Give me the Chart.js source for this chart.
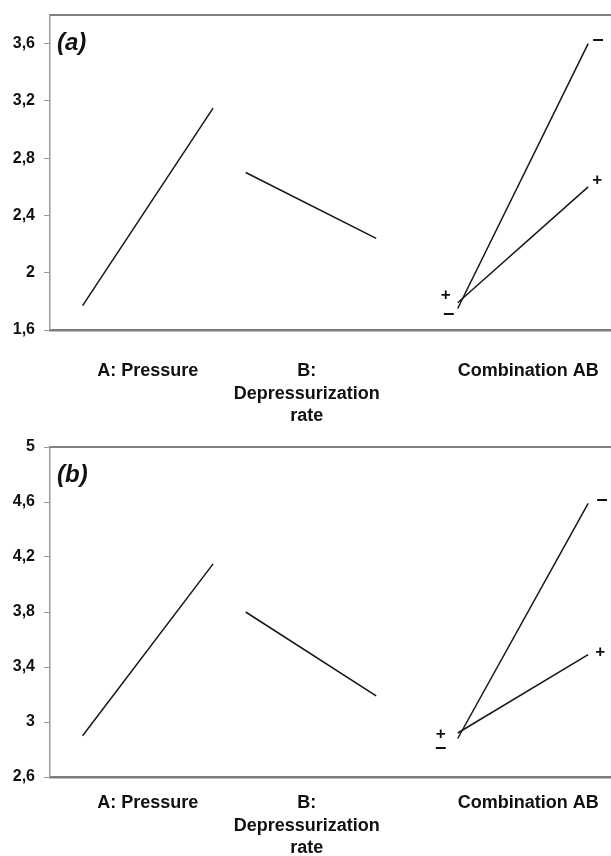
<!DOCTYPE html>
<html>
<head>
<meta charset="utf-8">
<script src="https://cdn.jsdelivr.net/npm/chart.js@4.4.1/dist/chart.umd.min.js"></script>
<style>
  body { margin: 0; background: #fff; }
  canvas { display: block; }
</style>
</head>
<body>
<canvas id="chartA" width="611" height="428"></canvas>
<canvas id="chartB" width="611" height="428"></canvas>
<script>
// factor labels on the x axis and where they sit
var effectLabels = [['A: Pressure'], ['B:', 'Depressurization', 'rate'], ['Combination AB']];
var effectLabelX = [3, 7.87, 14.66];

// low / high level positions of each factor on the x axis
var pressureX = [1, 5];
var rateX = [6, 10];
var comboX = [12.5, 16.5];

// panel (a)
var pressureA = [1.77, 3.15];
var rateA = [2.70, 2.24];
var comboMinusA = [1.75, 3.60];
var comboPlusA = [1.79, 2.60];
var yTicksA = [1.6, 2, 2.4, 2.8, 3.2, 3.6];

// panel (b)
var pressureB = [2.90, 4.15];
var rateB = [3.80, 3.19];
var comboMinusB = [2.88, 4.59];
var comboPlusB = [2.92, 3.49];
var yTicksB = [2.6, 3, 3.4, 3.8, 4.2, 4.6, 5];

function pts(xs, ys) {
    return xs.map(function (x, i) { return { x: x, y: ys[i] }; });
}

function seg(xs, ys, marks) {
    return {
        data: pts(xs, ys),
        borderColor: '#161616',
        borderWidth: 1.5,
        pointRadius: 0,
        fill: false,
        marks: marks
    };
}

var fmt = function (v) { return String(Number(v.toFixed(1))).replace('.', ','); };

// top frame line, panel letter and the +/- signs at the interaction ends
var decorations = {
    id: 'decorations',
    afterDraw: function (chart, args, opts) {
        var ctx = chart.ctx, area = chart.chartArea;
        ctx.save();
        ctx.strokeStyle = '#808080';
        ctx.lineWidth = 2;
        ctx.beginPath();
        ctx.moveTo(area.left, area.top);
        ctx.lineTo(area.right, area.top);
        ctx.stroke();

        ctx.fillStyle = '#111';
        ctx.font = 'italic bold 24px "Liberation Sans", Arial, sans-serif';
        ctx.textBaseline = 'middle';
        ctx.textAlign = 'left';
        ctx.fillText(opts.letter, area.left + 7, area.top + 28);

        ctx.textAlign = 'center';
        chart.data.datasets.forEach(function (ds, di) {
            if (!ds.marks) return;
            var meta = chart.getDatasetMeta(di);
            var plus = ds.marks === 'plus';
            ctx.font = 'bold ' + (plus ? 17 : 20) + 'px "Liberation Sans", Arial, sans-serif';
            meta.data.forEach(function (p, i) {
                var off = opts.offsets[ds.marks][i];
                ctx.fillText(plus ? '+' : '\u2013', p.x + off[0], p.y + off[1]);
            });
        });
        ctx.restore();
    }
};

function makeChart(id, sets, yMin, yMax, yTicks, letter, topPad, xHeight, labelPad, offsets) {
    return new Chart(document.getElementById(id), {
        type: 'line',
        data: {
            datasets: [
                seg(pressureX, sets[0]),
                seg(rateX, sets[1]),
                seg(comboX, sets[2], 'minus'),
                seg(comboX, sets[3], 'plus')
            ]
        },
        options: {
            responsive: false,
            animation: false,
            layout: { padding: { top: topPad, left: 0, right: 0, bottom: 0 } },
            plugins: {
                legend: { display: false },
                tooltip: { enabled: false },
                decorations: { letter: letter, offsets: offsets }
            },
            scales: {
                x: {
                    type: 'linear',
                    min: 0,
                    max: 17.2,
                    afterBuildTicks: function (s) {
                        s.ticks = effectLabelX.map(function (v) { return { value: v }; });
                    },
                    afterFit: function (s) {
                        s.height = xHeight;
                        s.paddingLeft = 0;
                        s.paddingRight = 0;
                    },
                    grid: { display: false, drawTicks: false },
                    border: { display: true, color: '#7d7d7d', width: 2.5 },
                    ticks: {
                        autoSkip: false,
                        maxRotation: 0,
                        padding: labelPad,
                        color: '#111',
                        font: { family: '"Liberation Sans", Arial, sans-serif', size: 18, weight: 'bold', lineHeight: 1.25 },
                        callback: function (v, i) { return effectLabels[i]; }
                    }
                },
                y: {
                    min: yMin,
                    max: yMax,
                    afterBuildTicks: function (s) {
                        s.ticks = yTicks.map(function (v) { return { value: v }; });
                    },
                    afterFit: function (s) {
                        s.width = 50;
                        s.paddingTop = 0;
                        s.paddingBottom = 0;
                    },
                    grid: { display: true, drawOnChartArea: false, drawTicks: true, tickLength: 6, color: '#999' },
                    border: { display: true, color: '#9a9a9a', width: 1.5 },
                    ticks: {
                        padding: 9,
                        color: '#111',
                        font: { family: '"Liberation Sans", Arial, sans-serif', size: 16, weight: 'bold' },
                        callback: function (v) { return fmt(v); }
                    }
                }
            }
        },
        plugins: [decorations]
    });
}

makeChart('chartA', [pressureA, rateA, comboMinusA, comboPlusA], 1.6, 3.8, yTicksA, '(a)', 15, 98, 30, {
    plus: [[-12, -7], [9, -7]],
    minus: [[-9, 5], [10, -4]]
});

makeChart('chartB', [pressureB, rateB, comboMinusB, comboPlusB], 2.6, 5, yTicksB, '(b)', 19, 79, 15, {
    plus: [[-17, 1], [12, -2]],
    minus: [[-17, 9], [14, -4]]
});
</script>
</body>
</html>
